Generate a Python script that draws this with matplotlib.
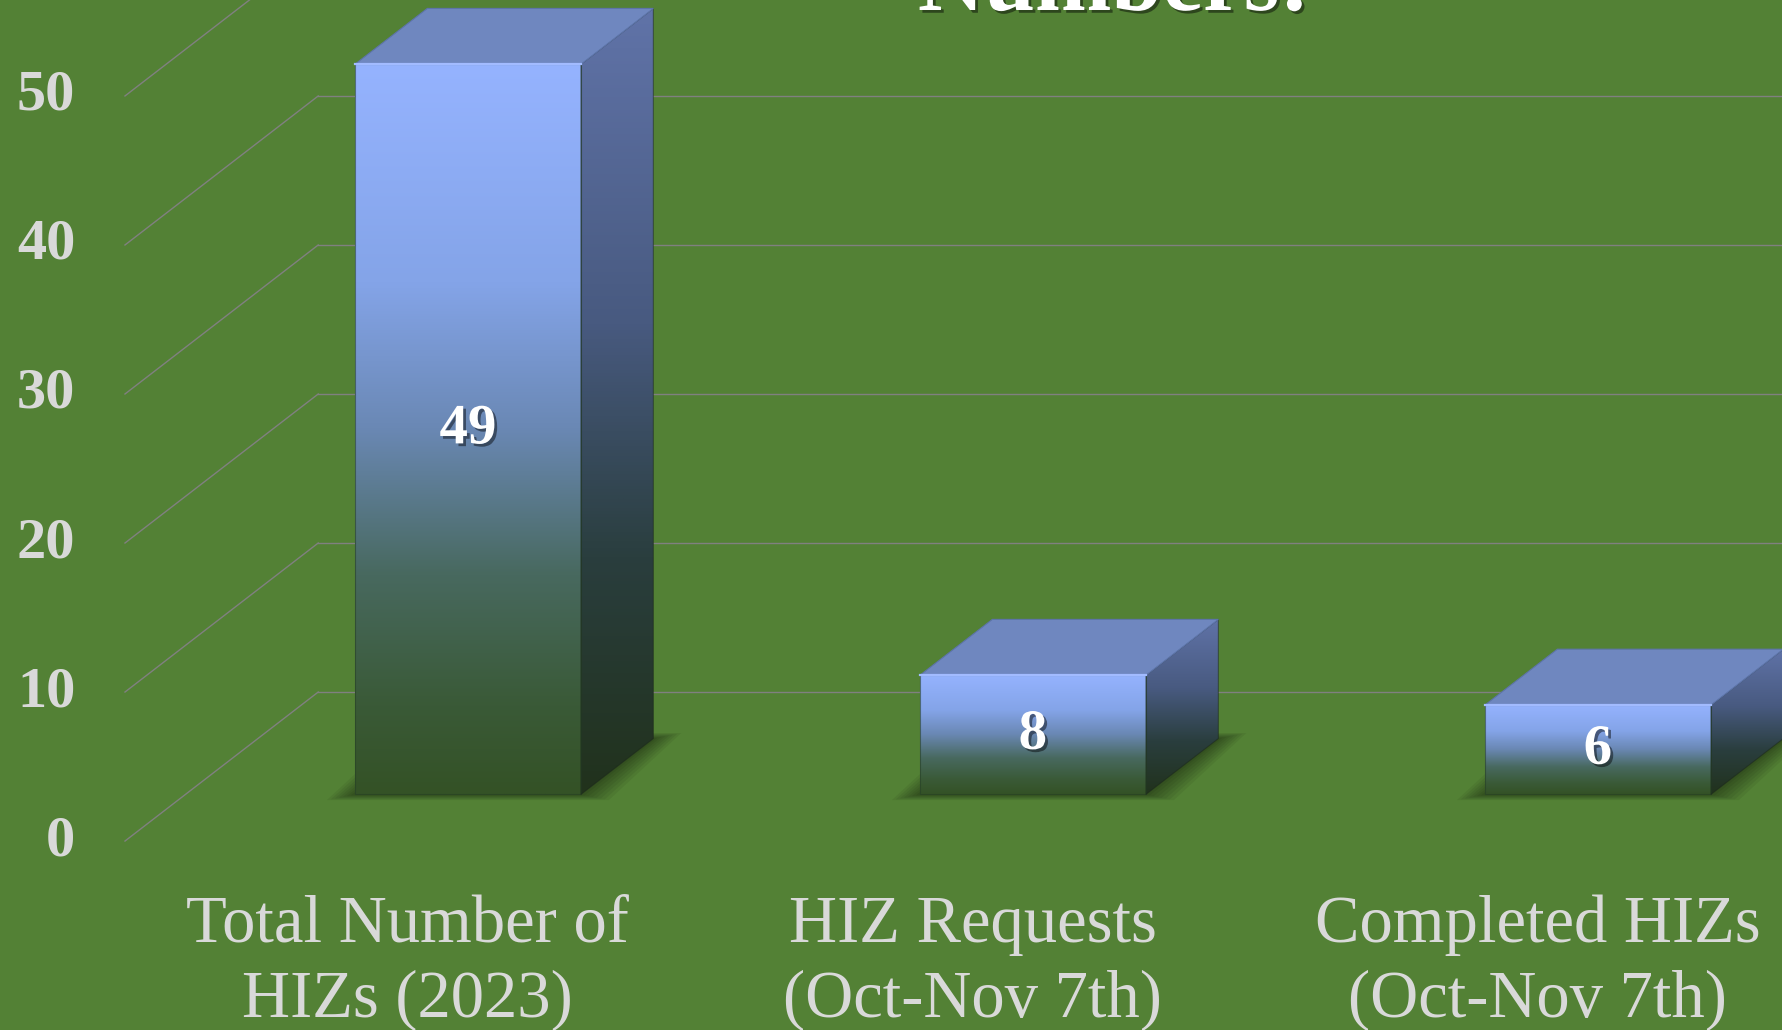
import numpy as np
import matplotlib.pyplot as plt
import matplotlib.patheffects as pe
from matplotlib.colors import LinearSegmentedColormap
from matplotlib.patches import Polygon, Rectangle

# ── data ────────────────────────────────────────────────────────────────────
categories = ["Total Number of\nHIZs (2023)",
              "HIZ Requests\n(Oct-Nov 7th)",
              "Completed HIZs\n(Oct-Nov 7th)"]
values = [49, 8, 6]
y_ticks = [0, 10, 20, 30, 40, 50]
title = "Numbers:"

# ── style ───────────────────────────────────────────────────────────────────
BG = "#538135"
GRID = "#808080"
LABEL = "#d9d9d9"
SERIF = "Liberation Serif"

# oblique "3-D" projection: full floor depth expressed in data units
DX, DY = 0.342, 10.0
BAR_W = 0.40
D0, D1 = 0.3125, 0.6875          # depth span of the bars (fraction of floor)

front_cmap = LinearSegmentedColormap.from_list("front", [
    (0.00, (52/255, 82/255, 38/255)),
    (0.12, (58/255, 90/255, 55/255)),
    (0.30, (72/255, 105/255, 95/255)),
    (0.50, (106/255, 136/255, 180/255)),
    (0.70, (132/255, 164/255, 232/255)),
    (1.00, (149/255, 179/255, 255/255)),
])
side_cmap = LinearSegmentedColormap.from_list("side", [
    (0.00, (33/255, 50/255, 28/255)),
    (0.30, (42/255, 62/255, 62/255)),
    (0.60, (72/255, 90/255, 128/255)),
    (1.00, (96/255, 115/255, 168/255)),
])

fig = plt.figure(figsize=(17.82, 10.30), dpi=100, facecolor=BG)
ax = fig.add_axes([0, 0, 1, 1])
ax.set_facecolor(BG)
ax.axis("off")

n = len(values)

# ── walls: side-wall diagonals + back-wall gridlines, y tick labels ─────────
for v in y_ticks:
    ax.plot([-0.5, -0.5 + DX], [v, v + DY], color=GRID, lw=1.0, zorder=1)
    ax.plot([-0.5 + DX, n - 0.5 + DX], [v + DY, v + DY],
            color=GRID, lw=1.0, zorder=1)
    ax.text(-0.588, v, str(v), ha="right", va="center", fontsize=42,
            fontweight="bold", color=LABEL, family=SERIF)

# ── bars ────────────────────────────────────────────────────────────────────
grad = np.linspace(0, 1, 256).reshape(-1, 1)
ddx, ddy = (D1 - D0) * DX, (D1 - D0) * DY
px_x, px_y = 1 / 565, 1 / 14.93   # one pixel in data units

for i, v in enumerate(values):
    x0 = i - BAR_W / 2 + D0 * DX
    x1 = x0 + BAR_W
    y0 = D0 * DY
    y1 = y0 + v

    # soft floor shadow
    for k in range(1, 8):
        ex, ey = 4 * k * px_x, 0.8 * k * px_y
        ax.add_patch(Polygon([(x0 - ex, y0 - ey), (x1 + ex, y0 - ey),
                              (x1 + ddx + ex, y0 + ddy + ey),
                              (x0 + ddx - ex, y0 + ddy + ey)],
                             closed=True, fc="black", ec="none",
                             alpha=0.06, zorder=2))

    # front face
    ax.imshow(grad, cmap=front_cmap, extent=[x0, x1, y0, y1],
              origin="lower", aspect="auto", zorder=3, interpolation="bilinear")
    ax.add_patch(Rectangle((x0, y0), BAR_W, v, fc="none",
                           ec=(0.15, 0.25, 0.15, 0.6), lw=0.8, zorder=4))

    # side face
    side = Polygon([(x1, y0), (x1 + ddx, y0 + ddy),
                    (x1 + ddx, y1 + ddy), (x1, y1)],
                   closed=True, fc="none", ec=(0.1, 0.15, 0.1, 0.5),
                   lw=0.8, zorder=4)
    ax.add_patch(side)
    im = ax.imshow(grad, cmap=side_cmap, extent=[x1, x1 + ddx, y0, y1 + ddy],
                   origin="lower", aspect="auto", zorder=3,
                   interpolation="bilinear")
    im.set_clip_path(side)

    # top face
    ax.add_patch(Polygon([(x0, y1), (x1, y1), (x1 + ddx, y1 + ddy),
                          (x0 + ddx, y1 + ddy)],
                         closed=True, fc="#6f87bf", ec="#5d74aa",
                         lw=0.8, zorder=4))
    ax.plot([x0, x1], [y1, y1], color="#a2bbff", lw=1.6, zorder=5)

    # value label on the front face
    ax.text(x0 + BAR_W / 2, y0 + v / 2, str(v), ha="center", va="center",
            fontsize=41, fontweight="bold", color="white", family=SERIF,
            zorder=6,
            path_effects=[pe.withSimplePatchShadow(offset=(2, -2),
                                                   shadow_rgbFace="black",
                                                   alpha=0.45)])

# ── category labels (front plane) ───────────────────────────────────────────
for i, cat in enumerate(categories):
    for k, line in enumerate(cat.split("\n")):
        ax.text(i, -6.76 - k * 5.02, line, ha="center", va="baseline",
                fontsize=48, color=LABEL, family=SERIF)

ax.set_xlim(-0.7212, 2.4327)
ax.set_ylim(-12.68, 56.44)

# ── title (mostly cut off at the top edge, as in the source slide) ──────────
fig.text(0.6251, 1 - 10 / 1030, title, ha="center", va="baseline",
         fontsize=66, fontweight="bold", color="white", family=SERIF,
         path_effects=[pe.withSimplePatchShadow(offset=(2, -2),
                                                shadow_rgbFace="black",
                                                alpha=0.45)])

fig.savefig("out.png", dpi=100, facecolor=BG)
